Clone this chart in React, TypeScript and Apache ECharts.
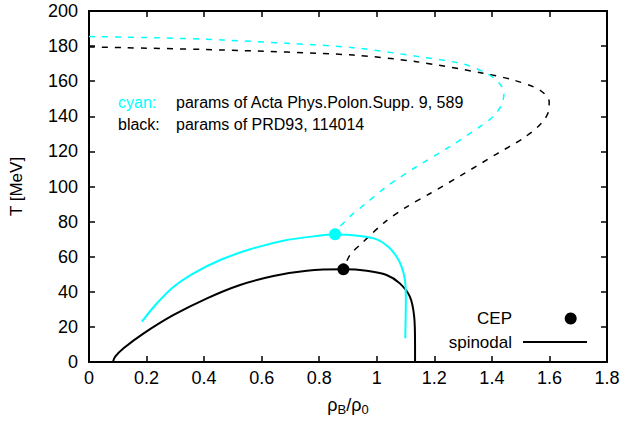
import React, { useEffect, useRef } from "react";
import * as echarts from "echarts";

// ---- data ----
const cyanCoexX = [0, 0.23, 0.46, 0.7, 0.918, 1.138, 1.3, 1.381, 1.422, 1.442, 1.433, 1.404, 1.358, 1.254, 1.138, 1.03, 0.96, 0.913, 0.872, 0.855];
const cyanCoexT = [185.4, 184.8, 183.5, 181.5, 179.1, 174.2, 169.8, 164.5, 159.7, 153.1, 146.4, 139.8, 134.1, 122.7, 111.3, 99.5, 90, 83.8, 77.1, 72.8];

const blackCoexX = [0, 0.46, 0.918, 1.138, 1.37, 1.474, 1.566, 1.599, 1.598, 1.572, 1.509, 1.416, 1.3, 1.185, 1.1, 1.03, 0.95, 0.907, 0.884];
const blackCoexT = [179.5, 177.8, 174.9, 171.1, 164.5, 160.7, 155, 148.3, 143.6, 136, 127.5, 118.5, 107, 96, 88, 80, 68, 61, 52.8];

const cyanSpinX = [0.184, 0.224, 0.288, 0.363, 0.456, 0.56, 0.675, 0.791, 0.855, 0.942, 1.0, 1.04, 1.069, 1.086, 1.098, 1.101, 1.099];
const cyanSpinT = [23, 31.2, 42, 50.5, 58.1, 64.2, 69.1, 71.8, 72.6, 71.8, 69.9, 65.7, 60, 54.3, 46.7, 35.3, 13.5];

const blackSpinX = [0.083, 0.091, 0.12, 0.19, 0.294, 0.41, 0.525, 0.641, 0.757, 0.884, 0.965, 1.034, 1.08, 1.115, 1.13, 1.133, 1.133];
const blackSpinT = [0, 3, 7.8, 16.3, 26.8, 36.3, 43.9, 49, 52, 52.8, 52, 49.6, 44.8, 37.2, 25.8, 10, 0];

const cepX = [0.855, 0.884];
const cepT = [72.8, 52.8];

const xTicks = [0, 0.2, 0.4, 0.6, 0.8, 1, 1.2, 1.4, 1.6, 1.8];
const yTicks = [0, 20, 40, 60, 80, 100, 120, 140, 160, 180, 200];

const CYAN = "#00ffff";
const FONT = "Liberation Sans";

const zip = (xs: number[], ys: number[]) => xs.map((x, i) => [x, ys[i]]);

export default function App() {
  const ref = useRef<HTMLDivElement>(null);
  useEffect(() => {
    if (!ref.current) return;
    const chart = echarts.init(ref.current, null, { renderer: "svg" });
    const axisCommon = {
      type: "value" as const,
      axisLine: { show: true, onZero: false, lineStyle: { color: "#000", width: 2 } },
      axisTick: { show: true, inside: true, length: 6, lineStyle: { color: "#000", width: 1.5 } },
      splitLine: { show: false },
    };
    chart.setOption({
      animation: false,
      backgroundColor: "#fff",
      grid: { left: 89, right: 17, top: 11, bottom: 60, containLabel: false },
      xAxis: [
        {
          ...axisCommon,
          position: "bottom",
          min: xTicks[0],
          max: xTicks[xTicks.length - 1],
          interval: 0.2,
          axisLabel: { color: "#000", fontFamily: FONT, fontSize: 18, margin: 7 },
          name: "ρ{sub|B}/ρ{sub|0}",
          nameLocation: "middle",
          nameGap: 32,
          nameTextStyle: {
            color: "#000",
            fontFamily: FONT,
            fontSize: 18,
            rich: { sub: { fontFamily: FONT, fontSize: 13, color: "#000", padding: [9, 0, 0, 0] } },
          },
        },
        {
          ...axisCommon,
          position: "top",
          min: xTicks[0],
          max: xTicks[xTicks.length - 1],
          interval: 0.2,
          axisLabel: { show: false },
        },
      ],
      yAxis: [
        {
          ...axisCommon,
          position: "left",
          min: yTicks[0],
          max: yTicks[yTicks.length - 1],
          interval: 20,
          axisLabel: { color: "#000", fontFamily: FONT, fontSize: 18, margin: 11 },
          name: "T [MeV]",
          nameLocation: "middle",
          nameRotate: 90,
          nameGap: 64,
          nameTextStyle: { color: "#000", fontFamily: FONT, fontSize: 17 },
        },
        {
          ...axisCommon,
          position: "right",
          min: yTicks[0],
          max: yTicks[yTicks.length - 1],
          interval: 20,
          axisLabel: { show: false },
        },
      ],
      series: [
        {
          name: "black first order",
          type: "line",
          data: zip(blackCoexX, blackCoexT),
          smooth: 0.3,
          showSymbol: false,
          lineStyle: { color: "#000", width: 1.5, type: [6, 7] },
        },
        {
          name: "cyan first order",
          type: "line",
          data: zip(cyanCoexX, cyanCoexT),
          smooth: 0.3,
          showSymbol: false,
          lineStyle: { color: CYAN, width: 1.5, type: [6, 7] },
        },
        {
          name: "spinodal",
          type: "line",
          data: zip(blackSpinX, blackSpinT),
          smooth: 0.3,
          showSymbol: false,
          lineStyle: { color: "#000", width: 2 },
        },
        {
          name: "cyan spinodal",
          type: "line",
          data: zip(cyanSpinX, cyanSpinT),
          smooth: 0.3,
          showSymbol: false,
          lineStyle: { color: CYAN, width: 2 },
        },
        {
          name: "CEP",
          type: "scatter",
          symbol: "circle",
          symbolSize: 12,
          itemStyle: { opacity: 1 },
          data: [
            { value: [cepX[0], cepT[0]], itemStyle: { color: CYAN, opacity: 1 } },
            { value: [cepX[1], cepT[1]], itemStyle: { color: "#000", opacity: 1 } },
          ],
          z: 5,
        },
      ],
      graphic: [
        { type: "text", left: 118, top: 94, style: { text: "cyan:", fill: CYAN, font: `16px "${FONT}"` } },
        { type: "text", left: 176, top: 94, style: { text: "params of Acta Phys.Polon.Supp. 9, 589", fill: "#000", font: `16px "${FONT}"` } },
        { type: "text", left: 118, top: 116, style: { text: "black:", fill: "#000", font: `16px "${FONT}"` } },
        { type: "text", left: 176, top: 116, style: { text: "params of PRD93, 114014", fill: "#000", font: `16px "${FONT}"` } },
        { type: "text", x: 512, y: 318, style: { text: "CEP", fill: "#000", font: `17px "${FONT}"`, align: "right", verticalAlign: "middle" } },
        { type: "circle", shape: { cx: 570.7, cy: 318.5, r: 6 }, style: { fill: "#000" } },
        { type: "text", x: 512, y: 342, style: { text: "spinodal", fill: "#000", font: `17px "${FONT}"`, align: "right", verticalAlign: "middle" } },
        { type: "line", shape: { x1: 523, y1: 342, x2: 587, y2: 342 }, style: { stroke: "#000", lineWidth: 2 } },
      ],
    });
    return () => chart.dispose();
  }, []);
  return (
    <div
      ref={ref}
      style={{ position: "fixed", left: 0, top: 0, width: 624, height: 422, background: "#fff" }}
    />
  );
}
